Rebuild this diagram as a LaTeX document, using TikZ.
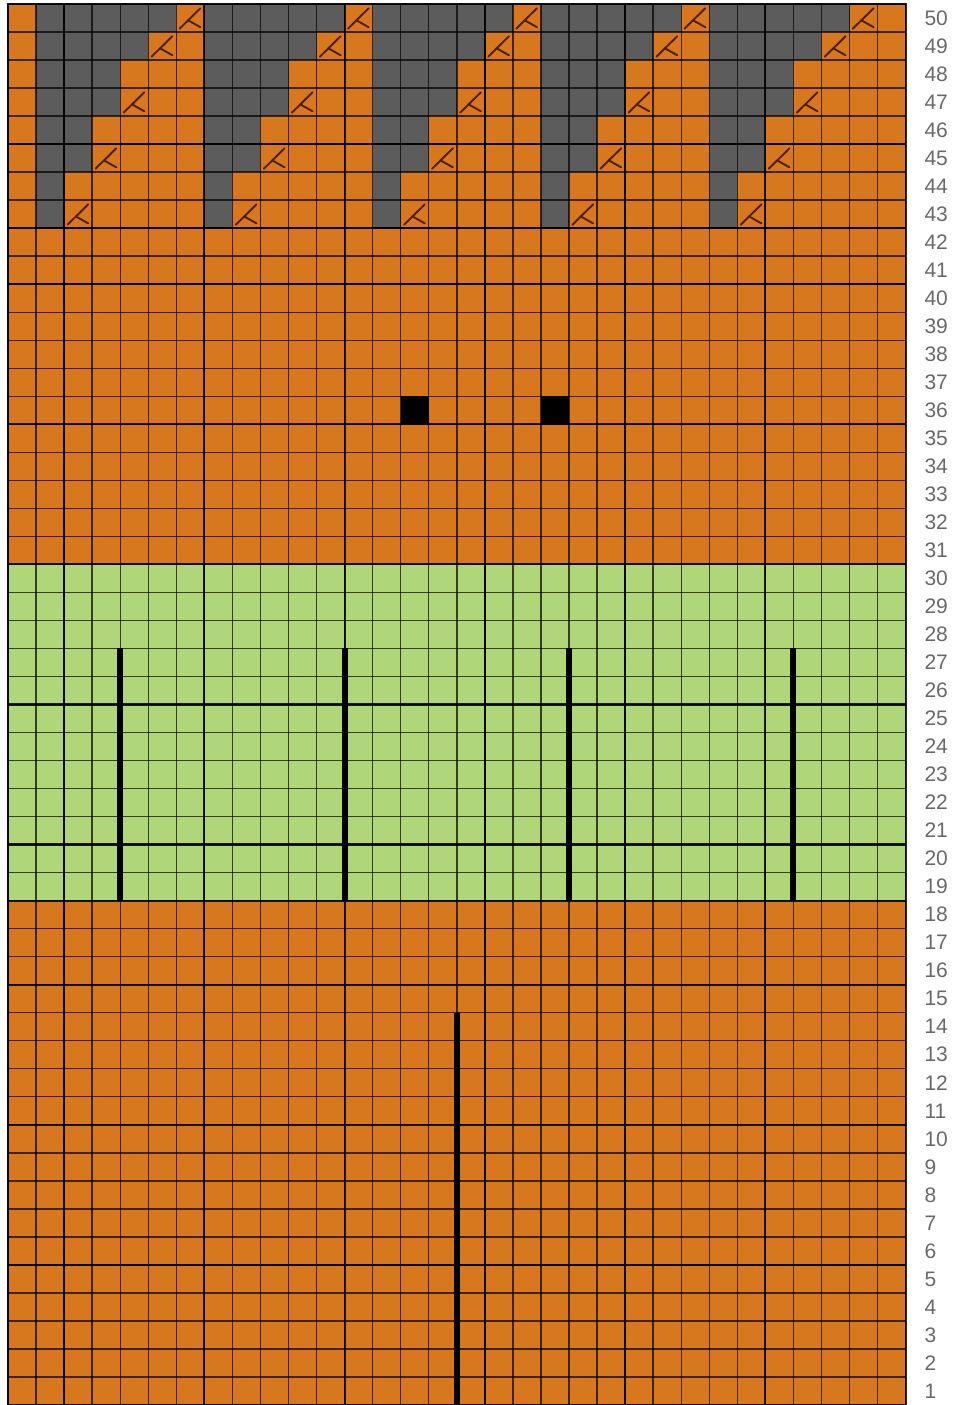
\documentclass[tikz,border=0pt]{standalone}
\usepackage{fontspec}
\setmainfont{Liberation Sans}
\definecolor{chartorange}{RGB}{215,120,30}
\definecolor{chartgreen}{RGB}{176,214,122}
\definecolor{chartgray}{RGB}{92,92,92}
\definecolor{symbrown}{RGB}{80,30,8}
\definecolor{labelgray}{RGB}{105,105,105}
\tikzset{
  thinline/.style={line width=0.7pt, draw=black, draw opacity=0.7},
  thickline/.style={line width=1.1pt, draw=black, draw opacity=0.85},
  stitchline/.style={line width=3pt, draw=black},
  decsym/.style={line width=0.95pt, draw=symbrown, line cap=round},
  rowlabel/.style={anchor=west, inner sep=0pt, text=labelgray, font=\fontsize{10.5pt}{12pt}\selectfont}
}
\newcommand{\decmark}[2]{%
  \draw[decsym] (#1+0.12,#2+0.12) -- (#1+0.86,#2+0.85);
  \draw[decsym] (#1+0.42,#2+0.42) -- (#1+0.86,#2+0.17);
}
\begin{document}
\begin{tikzpicture}[x=14.025pt,y=14.01pt]
\useasboundingbox (-0.2852,0) rectangle (33.797,50.143);
% background colours
\fill[chartorange] (0,0) rectangle (32,50);
\fill[chartgreen] (0,18) rectangle (32,30);
% gray motifs
\foreach \s in {1,7,13,19,25}{
  \fill[chartgray] (\s,49) rectangle (\s+5,50);
  \fill[chartgray] (\s,48) rectangle (\s+4,49);
  \fill[chartgray] (\s,46) rectangle (\s+3,48);
  \fill[chartgray] (\s,44) rectangle (\s+2,46);
  \fill[chartgray] (\s,42) rectangle (\s+1,44);
}
% black squares
\fill[black] (14,35) rectangle (15,36);
\fill[black] (19,35) rectangle (20,36);
% grid
\foreach \c in {0,...,32} \draw[thinline] (\c,0) -- (\c,50);
\foreach \r in {0,...,50} \draw[thinline] (0,\r) -- (32,\r);
\foreach \c in {2,7,12,17,22,27} \draw[thickline] (\c,0) -- (\c,50);
\foreach \r in {5,10,15,18,20,25,30,35,40,42,45} \draw[thickline] (0,\r) -- (32,\r);
\draw[thickline] (0,0) rectangle (32,50);
% decrease symbols
\foreach \s in {1,7,13,19,25}{
  \decmark{\s+5}{49}
  \decmark{\s+4}{48}
  \decmark{\s+3}{46}
  \decmark{\s+2}{44}
  \decmark{\s+1}{42}
}
% vertical stitch lines
\foreach \c in {4,12,20,28} \draw[stitchline] (\c,18) -- (\c,27);
\draw[stitchline] (16,0) -- (16,14);
% row labels
\foreach \r in {1,...,50} \node[rowlabel] (lab\r) at (32.66,\r-0.5) {\r};
\end{tikzpicture}
\end{document}
